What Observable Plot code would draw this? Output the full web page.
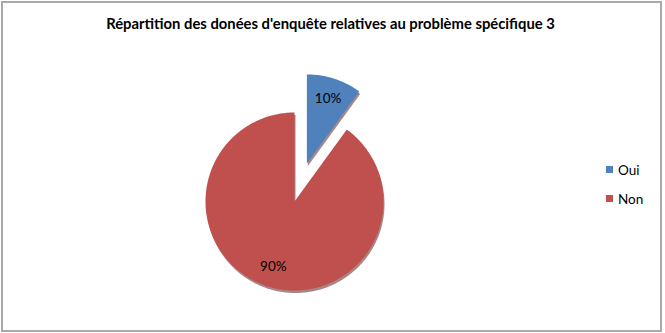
<!DOCTYPE html>
<html>
<head>
<meta charset="utf-8">
<script src="https://cdn.jsdelivr.net/npm/d3@7"></script>
<script src="https://cdn.jsdelivr.net/npm/@observablehq/plot@0.6"></script>
<style>
  html, body { margin: 0; padding: 0; background: #fff; }
  #frame { position: absolute; left: 1px; top: 1px; width: 661px; height: 331px; box-sizing: border-box; border: 2px solid #a9a9a9; }
  #title { position: absolute; left: 0; top: 14px; width: 661px; text-align: center; font-family: Lato, sans-serif; font-weight: bold; font-size: 14.8px; color: #000; }
  #chart { position: absolute; left: 144px; top: 51px; }
  #legend { position: absolute; left: 606px; top: 155px; font-family: Lato, sans-serif; font-size: 13.5px; color: #000; }
  .item { display: flex; align-items: center; height: 29px; }
  .sw { width: 7px; height: 7px; margin-right: 5px; }
</style>
</head>
<body>
<div id="frame"></div>
<div id="title">Répartition des donées d'enquête relatives au problème spécifique 3</div>
<div id="chart"></div>
<div id="legend"></div>
<script>
const categories = ["Oui", "Non"];
const values = [10, 90];
const labels = ["10%", "90%"];
const colors = ["#4F81BD", "#C0504D"];
const exploded = [true, false];

const R = 89;            // radius in px
const S = 150 / R;       // half-extent of the plot in radius units
const EXPLODE = 0.45;    // explosion offset in radius units

const pie = d3.pie().sort(null).value(d => d.value)(
  categories.map((c, i) => ({ label: c, value: values[i], text: labels[i], exploded: exploded[i] }))
);

const polys = [];
const texts = [];
pie.forEach(s => {
  const mid = (s.startAngle + s.endAngle) / 2;
  const off = s.data.exploded ? EXPLODE : 0;
  const cx = off * Math.sin(mid), cy = off * Math.cos(mid);
  polys.push({ label: s.data.label, x: cx, y: cy });
  const n = Math.max(4, Math.ceil((s.endAngle - s.startAngle) / (Math.PI / 180)));
  for (let k = 0; k <= n; k++) {
    const a = s.startAngle + (s.endAngle - s.startAngle) * k / n;
    polys.push({ label: s.data.label, x: cx + Math.sin(a), y: cy + Math.cos(a) });
  }
  polys.push({ label: s.data.label, x: cx, y: cy });
  texts.push({ label: s.data.text, x: cx + 0.77 * Math.sin(mid), y: cy + 0.77 * Math.cos(mid) });
});

const plot = Plot.plot({
  width: 300, height: 300,
  margin: 0,
  x: { domain: [-S, S], axis: null },
  y: { domain: [-S, S], axis: null },
  color: { domain: categories, range: colors },
  marks: [
    Plot.line(polys, { x: "x", y: "y", z: "label", fill: "#5a2422", stroke: "none", fillOpacity: 0.55, dx: 1, dy: 2.5, curve: "linear" }),
    Plot.line(polys, { x: "x", y: "y", z: "label", fill: "label", stroke: "none", curve: "linear" }),
    Plot.text(texts, { x: "x", y: "y", text: "label", fill: "#000", fontSize: 13.5, fontFamily: "Lato, sans-serif" })
  ]
});
document.getElementById("chart").appendChild(plot);

const legend = document.getElementById("legend");
categories.forEach((c, i) => {
  const item = document.createElement("div");
  item.className = "item";
  const sw = document.createElement("span");
  sw.className = "sw";
  sw.style.background = colors[i];
  const t = document.createElement("span");
  t.textContent = c;
  item.appendChild(sw); item.appendChild(t);
  legend.appendChild(item);
});
</script>
</body>
</html>
